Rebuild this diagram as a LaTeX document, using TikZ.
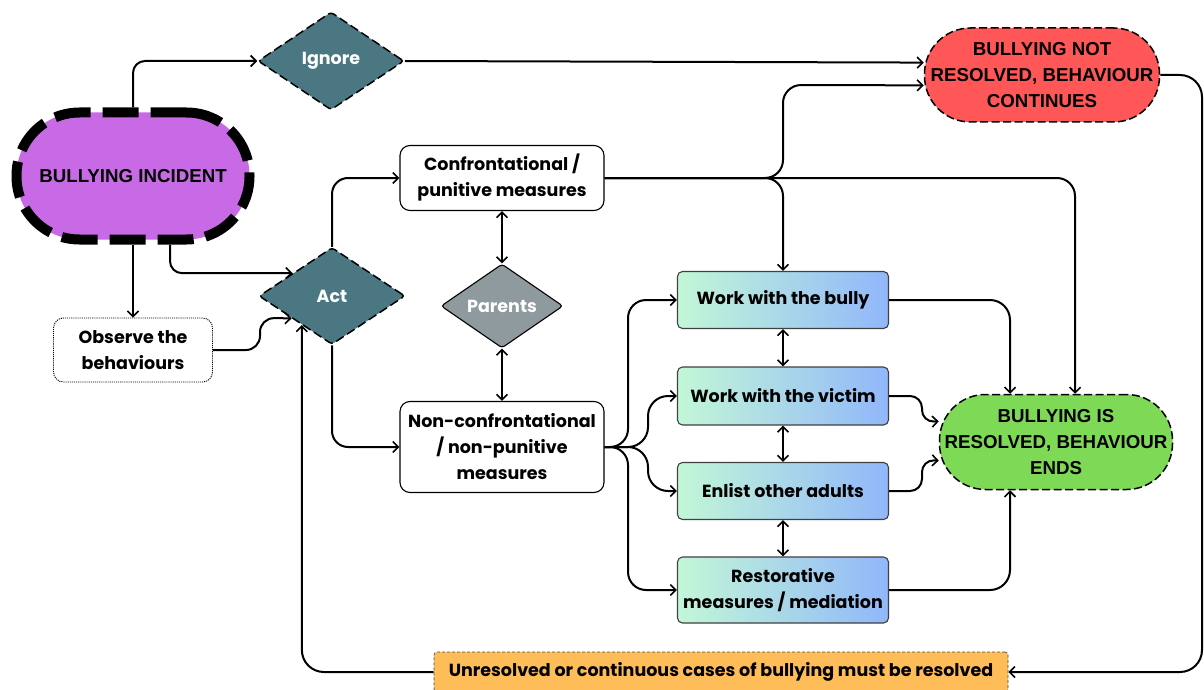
\documentclass[tikz,border=0pt]{standalone}
\usepackage{fontspec}
\setmainfont{Poppins}
\newfontfamily\capsfont{Liberation Sans}
\usetikzlibrary{arrows.meta,shapes.geometric,shapes.misc}
\definecolor{incpurple}{HTML}{C86AE6}
\definecolor{diateal}{HTML}{4A7782}
\definecolor{diagray}{HTML}{8E9A9D}
\definecolor{nrred}{HTML}{FF5757}
\definecolor{resgreen}{HTML}{7ED957}
\definecolor{noteorange}{HTML}{FFBD59}
\definecolor{gradL}{HTML}{C3F7D7}
\definecolor{gradR}{HTML}{91B7FA}
\begin{document}
\begin{tikzpicture}[x=1pt,y=-1pt,
  font=\bfseries\fontsize{17.5}{26}\selectfont,
  tip/.tip={Straight Barb[length=5.5pt,width=11pt,line width=1.6pt]},
  arr/.style={draw, line width=2pt, -tip, rounded corners=16pt},
  darr/.style={draw, line width=2pt, tip-tip},
  box/.style={draw, rectangle, rounded corners=10pt, line width=1.1pt, align=center, inner sep=0pt, fill=white},
  gradbox/.style={box, draw=black!75, rounded corners=5pt, left color=gradL, right color=gradR, minimum width=211pt},
  dia/.style={diamond, draw, line width=1.5pt, rounded corners=3pt, inner sep=0pt, text=white, font=\bfseries\fontsize{17.5}{20}\selectfont},
  stad/.style={rectangle, draw, line width=1.5pt, dash pattern=on 8pt off 3.5pt, align=center, inner sep=0pt,
    font=\capsfont\bfseries\fontsize{18.7}{26}\selectfont}
]
\useasboundingbox (0,0) rectangle (1204,690);

% nodes
\node[stad, fill=incpurple, line width=10pt, dash pattern=on 36pt off 12pt, rounded corners=63pt, minimum width=233pt, minimum height=127pt] (inc) at (133,176) {BULLYING INCIDENT};
\node[dia, fill=diateal, dash pattern=on 9pt off 4pt, minimum width=146pt, minimum height=98pt] (ign) at (331,61) {Ignore};
\node[dia, fill=diateal, dash pattern=on 9pt off 4pt, minimum width=146pt, minimum height=97pt] (act) at (332,296) {Act};
\node[box, densely dotted, line width=0.9pt, minimum width=159pt, minimum height=64pt] (obs) at (133,350) {Observe the\\behaviours};
\node[box, minimum width=204pt, minimum height=65pt] (conf) at (502,178) {Confrontational /\\punitive measures};
\node[dia, fill=diagray, line width=1.1pt, minimum width=122pt, minimum height=84pt] (par) at (502,306) {Parents};
\node[box, minimum width=204pt, minimum height=91pt] (non) at (502,447) {Non-confrontational\\/ non-punitive\\measures};
\node[gradbox, minimum height=57pt] (bul) at (783,300) {Work with the bully};
\node[gradbox, minimum height=58pt] (vic) at (783,396) {Work with the victim};
\node[gradbox, minimum height=57pt] (enl) at (783,491) {Enlist other adults};
\node[gradbox, minimum height=66pt] (rst) at (783,590) {Restorative\\measures / mediation};
\node[stad, fill=nrred, rounded corners=46pt, minimum width=235pt, minimum height=94pt] (nr) at (1042,75) {BULLYING NOT\\RESOLVED, BEHAVIOUR\\CONTINUES};
\node[stad, fill=resgreen, rounded corners=46pt, minimum width=233pt, minimum height=95pt] (res) at (1056,442) {BULLYING IS\\RESOLVED, BEHAVIOUR\\ENDS};
\node[box, fill=noteorange, draw=black!70, densely dashed, line width=0.7pt, rounded corners=3pt, minimum width=574pt, minimum height=40pt] (note) at (721,672) {Unresolved or continuous cases of bullying must be resolved};

% connectors
\draw[arr, rounded corners=12pt] (inc.north) |- (ign.west);
\draw[arr] (ign.east) -- (nr.174);
\draw[arr, rounded corners=18pt] (conf.east) -- (783,178) -- (783,85) -- (nr.185);
\draw[arr, rounded corners=18pt] (conf.east) -- (783,178) -- (bul.north);
\draw[arr, rounded corners=18pt] (conf.east) -- (1075,178) -- (1075,0 |- res.north);
\draw[arr] (inc.south) -- (obs.north);
\draw[arr, rounded corners=12pt] (170,0 |- inc.south) |- (act.150);
\draw[arr, rounded corners=14pt] (obs.east) -- (260,350) -- (260,318) -- (act.209);
\draw[arr] (act.north) |- (conf.west);
\draw[arr] (act.south) |- (non.west);
\draw[darr] (conf.south) -- (par.north);
\draw[darr] (par.south) -- (non.north);
\draw[arr, rounded corners=18pt] (non.east) -- (628,447) -- (628,300) -- (bul.west);
\draw[arr, rounded corners=20pt] (non.east) -- (648,447) -- (648,396) -- (vic.west);
\draw[arr, rounded corners=20pt] (non.east) -- (648,447) -- (648,491) -- (enl.west);
\draw[arr, rounded corners=18pt] (non.east) -- (628,447) -- (628,590) -- (rst.west);
\draw[darr] (bul.south) -- (vic.north);
\draw[darr] (vic.south) -- (enl.north);
\draw[darr] (enl.south) -- (rst.north);
\draw[arr, rounded corners=20pt] (bul.east) -- (1010,300) -- (1010,0 |- res.north);
\draw[arr, rounded corners=12pt] (vic.east) -- (922,396) -- (922,422) -- (res.170);
\draw[arr, rounded corners=12pt] (enl.east) -- (922,491) -- (922,460) -- (res.189);
\draw[arr, rounded corners=20pt] (rst.east) -- (1010,590) -- (1010,0 |- res.south);
\draw[arr, rounded corners=22pt] (nr.east) -- (1202,75) -- (1202,672) -- (note.east);
\draw[arr, rounded corners=22pt] (note.west) -| (act.224);
\end{tikzpicture}
\end{document}
